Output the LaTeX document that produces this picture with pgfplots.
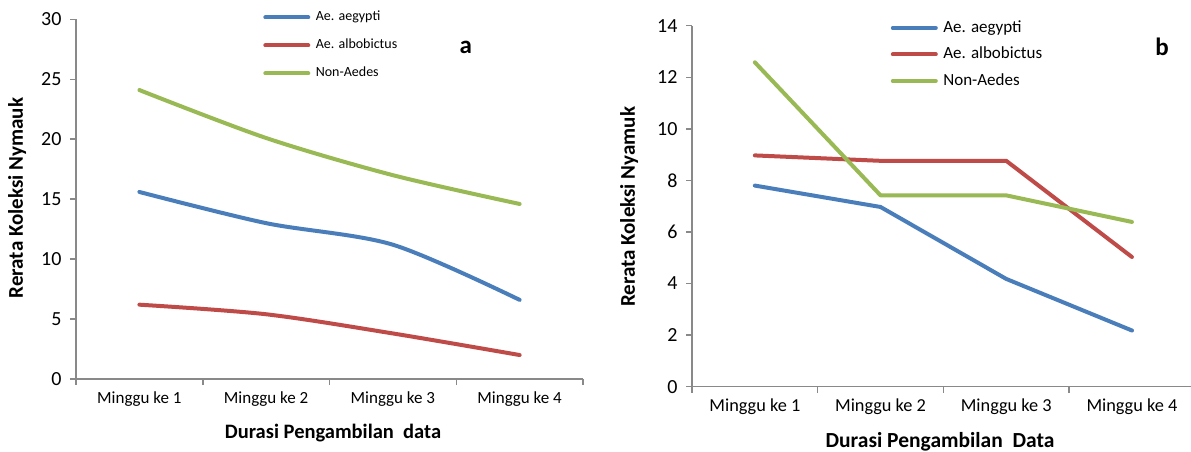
\documentclass[border=0pt]{standalone}
\usepackage{fontspec}
\setmainfont{Carlito}
\usepackage{pgfplots}
\pgfplotsset{compat=1.18}
\definecolor{cblue}{HTML}{4A7EBB}
\definecolor{cred}{HTML}{BE4B48}
\definecolor{cgreen}{HTML}{98B954}
\definecolor{cax}{HTML}{898989}
\pgfplotsset{
  myax/.style={
    scale only axis,
    axis lines*=left,
    axis line style={cax, line width=1.5pt, -},
    every tick/.style={cax, line width=1.5pt},
    major tick length=6pt,
    tick align=outside,
    clip=false,
    /pgf/number format/assume math mode=true,
    xtick={0.5,1.5,2.5,3.5,4.5},
    xticklabels={},
    extra x ticks={1,2,3,4},
    extra x tick labels={Minggu ke 1,Minggu ke 2,Minggu ke 3,Minggu ke 4},
    extra x tick style={major tick length=0pt, tick style={draw=none}},
    yticklabel style={font=\fontsize{20}{24}\selectfont, xshift=-5pt},
    legend cell align=left,
    legend image code/.code={\draw[##1] (0pt,0pt) -- (43pt,0pt); \path (47pt,0pt);},
  },
  ln/.style={line width=4pt, line join=round, line cap=round},
}
\begin{document}
\begin{tikzpicture}
\path[use as bounding box] (0,0) rectangle (1191pt,-451pt);
% ---------------- panel a
\begin{axis}[myax,
  at={(76pt,-379pt)}, anchor=south west,
  width=507pt, height=359.7pt,
  xmin=0.5, xmax=4.5, ymin=0, ymax=30,
  ytick={0,5,10,15,20,25,30},
  xticklabel style={font=\fontsize{17}{20}\selectfont, yshift=-9pt},
  xlabel={\textbf{Durasi Pengambilan\ \ data}},
  xlabel style={font=\fontsize{20.5}{24}\selectfont, at={(axis description cs:0.507,-0.150)}, anchor=center},
  ylabel={\textbf{Rerata Koleksi Nymauk}},
  ylabel style={font=\fontsize{21}{24}\selectfont, at={(axis description cs:-0.116,0.503)}, anchor=center, rotate=0},
  legend style={at={(axis description cs:0.369,1.028)}, anchor=north west, draw=none, fill=none,
    font=\fontsize{14}{16}\selectfont, inner sep=0pt, row sep=12pt,
    nodes={inner sep=1.5pt, text height=10pt, text depth=3pt}},
]
\addplot[cblue, ln, smooth, tension=0.5] coordinates {(1,15.6) (2,13.0) (3,11.2) (4,6.6)};
\addplot[cred, ln, smooth, tension=0.5] coordinates {(1,6.2) (2,5.4) (3,3.8) (4,2.0)};
\addplot[cgreen, ln, smooth, tension=0.5] coordinates {(1,24.1) (2,20.1) (3,17.0) (4,14.6)};
\legend{Ae. aegypti, Ae. albobictus, Non-Aedes}
\node[font=\fontsize{25}{28}\selectfont\bfseries] at (axis description cs:0.769,0.923) {a};
\end{axis}
% ---------------- panel b
\begin{axis}[myax,
  at={(692pt,-386.7pt)}, anchor=south west,
  width=499pt, height=361pt,
  xmin=0.5, xmax=4.47, ymin=0, ymax=14,
  ytick={0,2,4,6,8,10,12,14},
  xticklabel style={font=\fontsize{18.3}{21}\selectfont, yshift=-9pt},
  xlabel={\textbf{Durasi Pengambilan\ \ Data}},
  xlabel style={font=\fontsize{21.5}{24}\selectfont, at={(axis description cs:0.497,-0.153)}, anchor=center},
  ylabel={\textbf{Rerata Koleksi Nyamuk}},
  ylabel style={font=\fontsize{21}{24}\selectfont, at={(axis description cs:-0.126,0.498)}, anchor=center, rotate=0},
  legend style={at={(axis description cs:0.398,1.02)}, anchor=north west, draw=none, fill=none,
    font=\fontsize{17}{19}\selectfont, inner sep=0pt, row sep=8pt,
    nodes={inner sep=1.5pt, text height=12pt, text depth=3.5pt}},
]
\addplot[cblue, ln] coordinates {(1,7.8) (2,6.97) (3,4.18) (4,2.18)};
\addplot[cred, ln] coordinates {(1,8.97) (2,8.76) (3,8.76) (4,5.03)};
\addplot[cgreen, ln] coordinates {(1,12.58) (2,7.42) (3,7.42) (4,6.39)};
\legend{Ae. aegypti, Ae. albobictus, Non-Aedes}
\node[font=\fontsize{25}{28}\selectfont\bfseries] at (axis description cs:0.942,0.941) {b};
\end{axis}
\end{tikzpicture}
\end{document}
